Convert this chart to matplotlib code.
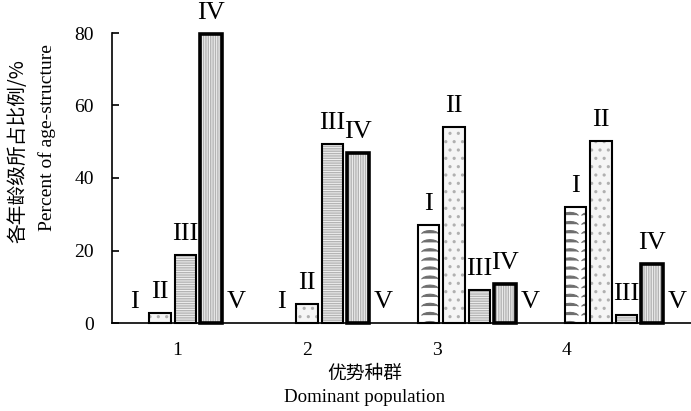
import numpy as np
import matplotlib
matplotlib.use('Agg')
import matplotlib.pyplot as plt
import matplotlib.hatch as mhatch
from matplotlib.path import Path

# data
groups = ['1', '2', '3', '4']
classes = ['I', 'II', 'III', 'IV', 'V']
class_I = [0, 0, 27.0, 32.1]
class_II = [2.8, 5.2, 54.2, 50.3]
class_III = [18.8, 49.4, 9.1, 2.2]
class_IV = [79.7, 47.0, 10.8, 16.3]
class_V = [0, 0, 0, 0]
values = [class_I, class_II, class_III, class_IV, class_V]


# stacked arch hatch used for class I, takes over the 'O' hatch letter
class ArchHatch(mhatch.HatchPatternBase):
    def __init__(self, hatch, density):
        n = hatch.count('O')
        self.rows = 11 * n
        self.cols = 5
        self.npts = 7
        self.num_vertices = self.rows * self.cols * self.npts

    def set_vertices_and_codes(self, vertices, codes):
        t = np.linspace(0.1 * np.pi, 0.9 * np.pi, self.npts)
        dx = np.cos(t) * 0.085
        dy = np.sin(t) * 0.04
        i = 0
        for r in range(self.rows):
            for c in range(self.cols):
                cx = (c + 0.5) / self.cols
                cy = (r + 0.2) / self.rows
                vertices[i:i + self.npts, 0] = cx + dx
                vertices[i:i + self.npts, 1] = cy + dy
                codes[i] = Path.MOVETO
                codes[i + 1:i + self.npts] = Path.LINETO
                i += self.npts


mhatch._hatch_types = [ArchHatch if h is mhatch.LargeCircles else h
                       for h in mhatch._hatch_types]

serif = ['Liberation Serif', 'DejaVu Serif']
cjk = ['Noto Sans CJK SC', 'DejaVu Sans']
plt.rcParams['font.family'] = serif

fig = plt.figure(figsize=(6.91, 4.11), dpi=100)
ax = fig.add_axes([112 / 691, 88 / 411, 579 / 691, 290 / 411])

x = np.arange(len(groups))
step = 0.1735
width = 0.145
hatches = ['O', '..', '-------', '|||||||', '']
hatch_colors = ['#6e6e6e', '#b0b0b0', '#b4b4b4', '#b4b4b4', '#999999']
hatch_widths = [0.8, 1.1, 1.0, 1.0, 1.0]
face_colors = ['white', '#f5f5f5', '#f2f2f2', '#f2f2f2', 'white']
edge_widths = [1.5, 1.5, 1.5, 2.6, 1.5]

for k, (cls, vals) in enumerate(zip(classes, values)):
    pos = x + (k - 2) * step
    vals = np.array(vals)
    # hatched fill
    plt.rcParams['hatch.linewidth'] = hatch_widths[k]
    ax.bar(pos, vals, width, color=face_colors[k], hatch=hatches[k],
           edgecolor=hatch_colors[k], linewidth=0, clip_on=False, zorder=2)
    # black outline
    lw = np.where(vals > 0, edge_widths[k], 0)
    ax.bar(pos, vals, width, fill=False, edgecolor='black', linewidth=lw,
           clip_on=False, zorder=3)
    for p, v in zip(pos, vals):
        ax.annotate(cls, (p, v), xytext=(0, 7), textcoords='offset points',
                    ha='center', va='bottom', fontsize=19, family=serif,
                    annotation_clip=False)

ax.set_xlim(-0.5, -0.5 + 579 / 147)
ax.set_ylim(0, 80)
ax.set_yticks([0, 20, 40, 60, 80])
ax.tick_params(axis='y', direction='in', length=5, width=1.2, labelsize=14, pad=13)
for lab in ax.get_yticklabels():
    lab.set_family(serif)

# category labels sit on a narrower spacing than the bar groups
label_pos = (x + 0.5) * 130 / 147 - 0.5
ax.set_xticks(label_pos)
ax.set_xticklabels(groups, fontsize=14, family=serif)
ax.tick_params(axis='x', length=0, pad=13.5)

for s in ['top', 'right']:
    ax.spines[s].set_visible(False)
ax.spines['left'].set_linewidth(1.2)
ax.spines['bottom'].set_linewidth(1.2)

fig.text(365 / 691, 1 - 373 / 411, '优势种群', ha='center', va='center',
         fontsize=13.5, family=cjk)
fig.text(365 / 691, 1 - 397 / 411, 'Dominant population', ha='center',
         va='center', fontsize=13.6, family=serif)
fig.text(18 / 691, 1 - 151 / 411, '各年龄级所占比例/%', ha='center', va='center',
         rotation=90, fontsize=14.2, family=cjk)
fig.text(47 / 691, 1 - 138 / 411, 'Percent of age-structure', ha='center',
         va='center', rotation=90, fontsize=14, family=serif)

fig.savefig('out.png', dpi=100)
